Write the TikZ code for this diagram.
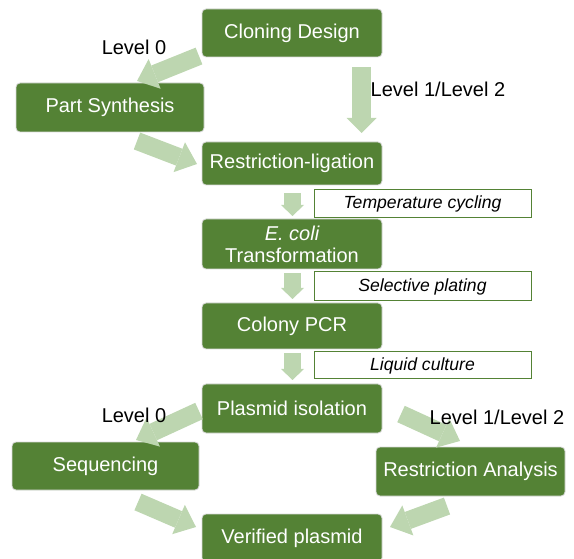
\documentclass[tikz,border=0pt]{standalone}
\usepackage{fontspec}
\setmainfont{Liberation Sans}
\usetikzlibrary{arrows.meta}
\definecolor{boxgreen}{HTML}{548235}
\definecolor{arrowgreen}{HTML}{BDD6B0}
\begin{document}
\begin{tikzpicture}[x=1pt,y=-1pt,
  stepbox/.style={draw=black!15, line width=0.8pt, fill=boxgreen, rounded corners=4pt,
    text=white, font=\fontsize{20}{22}\selectfont, inner sep=0pt, align=center},
  notebox/.style={draw=boxgreen, line width=1pt, fill=white,
    font=\fontsize{17.6}{20}\selectfont\itshape, inner sep=0pt,
    minimum width=217pt},
  lvl/.style={font=\fontsize{20}{22}\selectfont, inner sep=0pt},
  bigarrow/.style={draw=arrowgreen, line width=18pt,
    -{Triangle[width=32pt,length=19pt,line width=0pt]}},
  vertarrow/.style={draw=arrowgreen, line width=19pt,
    -{Triangle[width=30pt,length=15pt,line width=0pt]}},
  smallarrow/.style={draw=arrowgreen, line width=17pt,
    -{Triangle[width=23pt,length=11pt,line width=0pt]}},
]
\useasboundingbox (0,0) rectangle (574,559);

% process boxes
\node[stepbox, minimum width=180pt, minimum height=48pt] (design) at (292,33) {Cloning Design};
\node[stepbox, minimum width=188pt, minimum height=49pt] (synth) at (110,107.5) {Part Synthesis};
\node[stepbox, minimum width=180pt, minimum height=43pt] (ligation) at (292,163.5) {Restriction-ligation};
\node[stepbox, minimum width=180pt, minimum height=50pt] (ecoli) at (292,244) {{\itshape E. coli}\\Transformation};
\node[stepbox, minimum width=180pt, minimum height=46pt] (pcr) at (292,326) {Colony PCR};
\node[stepbox, minimum width=180pt, minimum height=49pt] (isolation) at (292,408.5) {Plasmid isolation};
\node[stepbox, minimum width=187pt, minimum height=48pt] (seq) at (105.5,466) {Sequencing};
\node[stepbox, minimum width=189pt, minimum height=49pt] (analysis) at (470.5,471.5) {Restriction Analysis};
\node[stepbox, minimum width=180pt, minimum height=48pt] (verified) at (292,538) {Verified plasmid};

% condition boxes
\node[notebox, minimum height=28pt] (temp) at (422.5,204) {Temperature cycling};
\node[notebox, minimum height=29pt] (plating) at (422.5,286.5) {Selective plating};
\node[notebox, minimum height=27pt] (culture) at (422.5,365.5) {Liquid culture};

% arrow end points
\coordinate (a1s) at (199,56);    \coordinate (a1e) at (137,81);
\coordinate (a2s) at (137,141);   \coordinate (a2e) at (197,164);
\coordinate (a3s) at (361.5,67);  \coordinate (a3e) at (361.5,133);
\coordinate (a4s) at (292.5,193); \coordinate (a4e) at (292.5,216);
\coordinate (a5s) at (292.5,273); \coordinate (a5e) at (292.5,299);
\coordinate (a6s) at (292.5,353); \coordinate (a6e) at (292.5,380);
\coordinate (a7s) at (199,411);   \coordinate (a7e) at (136,440);
\coordinate (a8s) at (401,414);   \coordinate (a8e) at (460,441);
\coordinate (a9s) at (138,502);   \coordinate (a9e) at (196,527);
\coordinate (a10s) at (447,506);  \coordinate (a10e) at (390,527);

\draw[bigarrow] (a1s) -- (a1e);
\draw[bigarrow] (a2s) -- (a2e);
\draw[vertarrow] (a3s) -- (a3e);
\draw[smallarrow] (a4s) -- (a4e);
\draw[smallarrow] (a5s) -- (a5e);
\draw[smallarrow] (a6s) -- (a6e);
\draw[bigarrow] (a7s) -- (a7e);
\draw[bigarrow] (a8s) -- (a8e);
\draw[bigarrow] (a9s) -- (a9e);
\draw[bigarrow] (a10s) -- (a10e);

% branch labels
\node[lvl] (l0top) at (134,47) {Level 0};
\node[lvl] (l12top) at (438,89) {Level 1/Level 2};
\node[lvl] (l0bot) at (134,415) {Level 0};
\node[lvl] (l12bot) at (497,417) {Level 1/Level 2};
\end{tikzpicture}
\end{document}
